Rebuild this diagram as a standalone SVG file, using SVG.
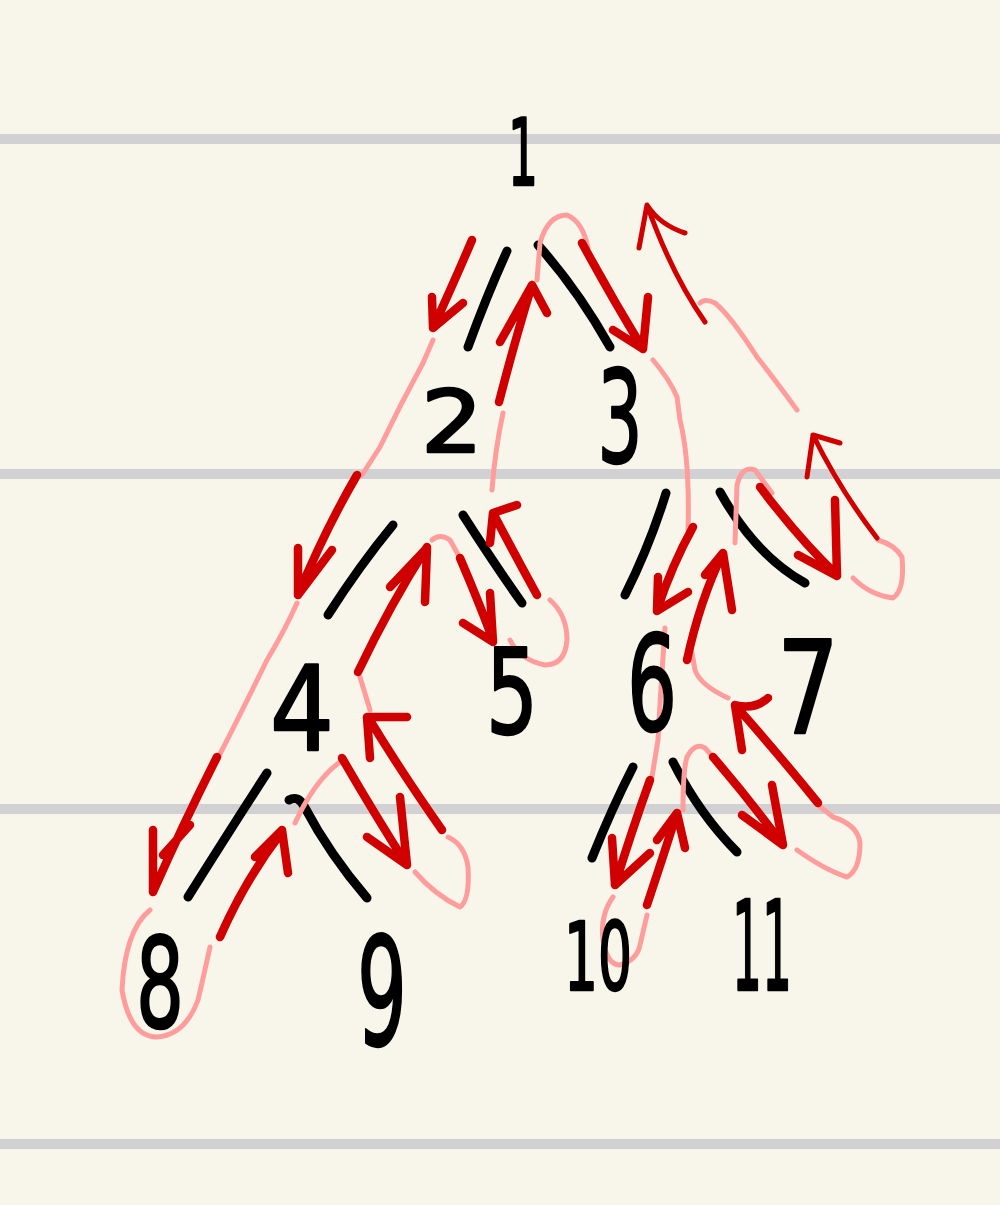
<svg xmlns="http://www.w3.org/2000/svg" width="1000" height="1205" viewBox="0 0 1000 1205">
<style>
.bg{fill:#f8f6ea}
.rule{fill:#d1d1d3}
.num{font-family:"DejaVu Sans",sans-serif;fill:#000;stroke:#000;stroke-width:2.5;stroke-linejoin:round;text-anchor:middle}
.edge{fill:none;stroke:#000;stroke-width:9;stroke-linecap:round;stroke-linejoin:round}
.red{fill:none;stroke:#d00000;stroke-width:8.5;stroke-linecap:round;stroke-linejoin:round}
.thin{stroke-width:5}
.pink{fill:none;stroke:#ff9c9c;stroke-width:5;stroke-linecap:round;stroke-linejoin:round}
</style>
<rect class="bg" x="0" y="0" width="1000" height="1205"/>
<g id="rules">
<rect class="rule" x="0" y="134" width="1000" height="10"/>
<rect class="rule" x="0" y="469" width="1000" height="10"/>
<rect class="rule" x="0" y="804" width="1000" height="10"/>
<rect class="rule" x="0" y="1139" width="1000" height="10"/>
</g>
<g id="connectors">
<path class="edge" d="M507,251 Q487,295 468,347"/>
<path class="edge" d="M538,245 Q578,290 610,347"/>
<path class="edge" d="M393,525 Q360,565 328,615"/>
<path class="edge" d="M463,515 Q495,565 522,603"/>
<path class="edge" d="M666,493 Q650,545 625,595"/>
<path class="edge" d="M720,492 Q755,555 805,583"/>
<path class="edge" d="M267,773 Q230,830 188,897"/>
<path class="edge" d="M289,800 Q298,795 304,806 Q330,855 367,898"/>
<path class="edge" d="M633,767 Q612,808 592,858"/>
<path class="edge" d="M673,762 Q700,815 737,852"/>
</g>
<g id="traversal">
<path class="pink" d="M537,280 L540,243 Q548,215 567,215 Q583,222 588,248"/>
<path class="pink" d="M433,340 L423,363 Q400,405 380,447 L362,475"/>
<path class="pink" d="M492,490 Q495,450 503,413"/>
<path class="pink" d="M297,603 Q285,630 267,660 Q240,715 218,758"/>
<path class="pink" d="M150,910 Q125,930 122,990 Q130,1037 157,1037 Q185,1035 198,1000 Q205,970 210,947"/>
<path class="pink" d="M295,823 Q315,780 340,762"/>
<path class="pink" d="M415,872 Q435,895 460,907 Q470,900 468,867 Q465,845 448,837"/>
<path class="pink" d="M370,710 L360,677"/>
<path class="pink" d="M432,540 Q440,533 450,540 L460,558"/>
<path class="pink" d="M510,640 Q520,660 545,665 Q565,665 567,640 Q567,615 550,600"/>
<path class="pink" d="M653,360 Q670,380 677,397 L680,420 Q690,460 688,530"/>
<path class="pink" d="M735,543 L737,485 Q742,465 755,470 L772,493"/>
<path class="pink" d="M853,578 Q870,595 893,598 Q905,590 902,557 Q895,545 878,540"/>
<path class="pink" d="M797,410 Q775,380 757,357 Q730,315 715,303 Q705,298 700,303"/>
<path class="pink" d="M665,628 Q660,700 658,740 L652,777"/>
<path class="pink" d="M613,897 Q600,915 603,940 Q607,965 620,965 Q637,960 640,945 L647,915"/>
<path class="pink" d="M683,810 Q683,770 687,757 Q695,742 705,748 L713,757"/>
<path class="pink" d="M797,850 Q825,870 847,877 Q860,870 860,843 Q858,825 833,817 L818,805"/>
<path class="pink" d="M728,698 Q700,685 695,670 L692,653"/>

<path class="red" d="M472,240 Q455,280 433,328 M432,297 L433,328 L463,303"/>
<path class="red" d="M499,402 Q515,340 532,285 M500,342 L532,285 L547,313"/>
<path class="red" d="M582,243 Q612,298 643,349 M613,330 L643,349 L648,297"/>
<path class="red thin" d="M705,322 Q672,275 647,205 M639,248 L647,205 Q660,225 685,233"/>
<path class="red" d="M693,527 Q672,565 657,610 M658,577 L657,611 L688,592"/>
<path class="red" d="M687,660 Q700,600 723,553 M705,575 L723,553 L732,610"/>
<path class="red" d="M760,487 Q800,540 837,575 M798,555 L837,576 L835,500"/>
<path class="red thin" d="M877,538 Q840,490 813,435 M807,477 L813,435 L840,443"/>
<path class="red" d="M357,475 Q325,530 298,595 M298,548 L298,595 L332,550"/>
<path class="red" d="M217,757 Q185,820 153,892 M153,830 L153,892 M190,825 L163,855"/>
<path class="red" d="M220,937 Q245,880 282,832 M255,857 L282,830 L288,873"/>
<path class="red" d="M342,758 Q375,815 407,865 M367,837 L407,865 L400,797"/>
<path class="red" d="M442,830 Q400,770 368,717 M370,758 L367,717 L407,717"/>
<path class="red" d="M358,672 Q390,605 427,547 M390,587 L427,548 L425,602"/>
<path class="red" d="M460,558 Q478,600 493,640 M463,623 L493,642 L490,593"/>
<path class="red" d="M537,595 Q515,555 493,513 M490,543 L493,513 L517,505"/>
<path class="red" d="M650,780 Q632,830 615,885 M612,838 L615,885 L650,853"/>
<path class="red" d="M647,905 Q662,860 677,813 M657,840 L677,813 L685,848"/>
<path class="red" d="M713,757 Q750,800 783,845 M742,815 L783,845 L772,785"/>
<path class="red" d="M818,803 Q775,750 735,705 M742,750 L735,705 Q755,710 768,698"/>
</g>
<g id="n1"><text class="num" x="523" y="185" font-size="92" textLength="30" lengthAdjust="spacingAndGlyphs">1</text></g>
<g id="n2"><text class="num" x="452" y="452" font-size="85" textLength="62" lengthAdjust="spacingAndGlyphs">2</text></g>
<g id="n3"><text class="num" x="620" y="462" font-size="128" textLength="45" lengthAdjust="spacingAndGlyphs">3</text></g>
<g id="n4"><text class="num" x="302" y="750" font-size="118" textLength="64" lengthAdjust="spacingAndGlyphs">4</text></g>
<g id="n5"><text class="num" x="512" y="733" font-size="118" textLength="52" lengthAdjust="spacingAndGlyphs">5</text></g>
<g id="n6"><text class="num" x="652" y="730" font-size="132" textLength="50" lengthAdjust="spacingAndGlyphs">6</text></g>
<g id="n7"><text class="num" x="808" y="733" font-size="128" textLength="62" lengthAdjust="spacingAndGlyphs">7</text></g>
<g id="n8"><text class="num" x="160" y="1027" font-size="124" textLength="48" lengthAdjust="spacingAndGlyphs">8</text></g>
<g id="n9"><text class="num" x="382" y="1045" font-size="150" textLength="50" lengthAdjust="spacingAndGlyphs">9</text></g>
<g id="n10"><text class="num" x="598" y="990" font-size="95" textLength="68" lengthAdjust="spacingAndGlyphs">10</text></g>
<g id="n11"><text class="num" x="762" y="990" font-size="125" textLength="60" lengthAdjust="spacingAndGlyphs">11</text></g>
</svg>
